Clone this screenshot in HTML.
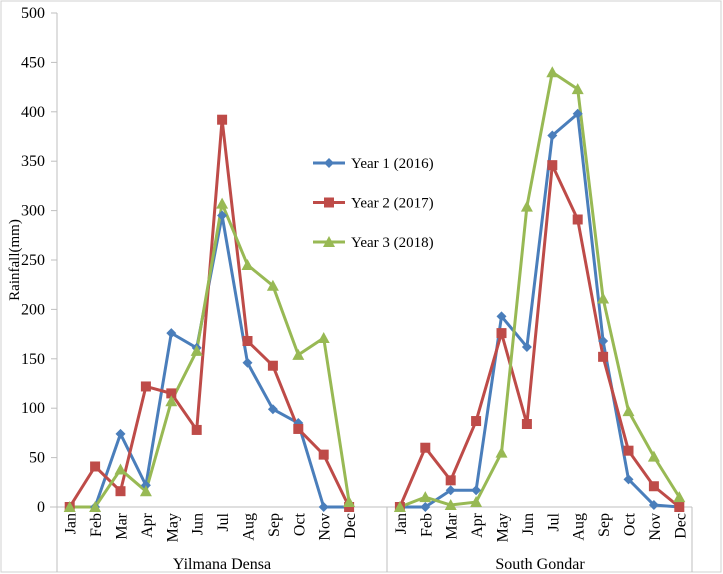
<!DOCTYPE html>
<html><head><meta charset="utf-8"><style>
body{margin:0;background:#fff;}
svg{display:block;font-family:"Liberation Serif",serif;}
</style></head><body>
<svg id="chart" width="723" height="574">
<rect x="1" y="1" width="720" height="571" fill="#fff" stroke="#d0d0d0"/>
<g id="axes"></g><g id="series"></g>
<text transform="translate(19,260) rotate(-90)" text-anchor="middle" font-size="15">Rainfall(mm)</text>
<g id="legend"></g>
</svg>
<script>
const months=["Jan","Feb","Mar","Apr","May","Jun","Jul","Aug","Sep","Oct","Nov","Dec"];
const groups=["Yilmana Densa","South Gondar"];
const seriesNames=["Year 1 (2016)","Year 2 (2017)","Year 3 (2018)"];
const y1Yil=[0,0,74,22,176,161,295,146,99,85,0,0];
const y2Yil=[0,41,16,122,115,78,392,168,143,79,53,0];
const y3Yil=[0,0,38,16,107,158,307,245,224,154,171,5];
const y1SG=[0,0,17,17,193,162,376,398,168,28,2,0];
const y2SG=[0,60,27,87,176,84,346,291,152,57,21,0];
const y3SG=[0,10,2,5,55,304,440,423,211,97,51,10];
const yTicks=[0,50,100,150,200,250,300,350,400,450,500];

const NS="http://www.w3.org/2000/svg";
const x0=57,slot=25.4,yBase=507,yScale=494/500;
const xs=i=>x0+slot*(i+0.5);
const ys=v=>yBase-v*yScale;
function mk(t,a,p){const e=document.createElementNS(NS,t);for(const k in a)e.setAttribute(k,a[k]);p.appendChild(e);return e;}
const axes=document.getElementById('axes');
let l=mk('line',{x1:x0,y1:13,x2:x0,y2:572,stroke:'#bfbfbf'},axes);


l=mk('line',{x1:50,y1:yBase,x2:692,y2:yBase,stroke:'#bfbfbf'},axes);


l=mk('line',{x1:387,y1:yBase,x2:387,y2:572,stroke:'#bfbfbf'},axes);


l=mk('line',{x1:692,y1:yBase,x2:692,y2:572,stroke:'#bfbfbf'},axes);


yTicks.forEach(v=>{
 const tk=mk('line',{x1:51,y1:ys(v),x2:x0,y2:ys(v),stroke:'#bfbfbf'},axes);
 
 
 const t=mk('text',{x:45,y:ys(v)+5,'text-anchor':'end','font-size':'16'},axes);
 t.textContent=v;
 
 
});
[0,13].forEach((off,g)=>{
 months.forEach((m,i)=>{
  const x=xs(off+i);
  const t=mk('text',{transform:`translate(${x+6},${513}) rotate(-90)`,'text-anchor':'end','font-size':'16'},axes);
  t.textContent=m;
  
  
 });
 const cx=g==0?222:540;
 const t=mk('text',{x:cx,y:569,'text-anchor':'middle','font-size':'16'},axes);
 t.textContent=groups[g];
 
 
});
const colors=["#4a7ebb","#be4b48","#98b954"];
const data=[[y1Yil,y1SG],[y2Yil,y2SG],[y3Yil,y3SG]];
const ser=document.getElementById('series');
function marker(k,x,y,p){
 let e;
 if(k==0)e=mk('polygon',{points:`${x},${y-5} ${x+5},${y} ${x},${y+5} ${x-5},${y}`,fill:colors[0]},p);
 else if(k==1)e=mk('rect',{x:x-5,y:y-5,width:10,height:10,fill:colors[1]},p);
 else e=mk('polygon',{points:`${x},${y-6} ${x+6},${y+5} ${x-6},${y+5}`,fill:colors[2]},p);
 return e;
}
data.forEach((pair,k)=>{
 pair.forEach((vals,g)=>{
  const off=g==0?0:13;
  const pts=vals.map((v,i)=>xs(off+i)+','+ys(v)).join(' ');
  const pl=mk('polyline',{points:pts,fill:'none',stroke:colors[k],'stroke-width':3,'stroke-linejoin':'round'},ser);
  
  
 });
});
data.forEach((pair,k)=>{
 pair.forEach((vals,g)=>{
  const off=g==0?0:13;
  vals.forEach((v,i)=>{
   const m=marker(k,xs(off+i),ys(v),ser);
   
   
  });
 });
});
const lg=document.getElementById('legend');
seriesNames.forEach((n,k)=>{
 const y=163+k*39.5;
 const ln=mk('line',{x1:313,y1:y,x2:345,y2:y,stroke:colors[k],'stroke-width':3},lg);
 
 
 const m=marker(k,329,y,lg);
 
 
 const t=mk('text',{x:351,y:y+5,'font-size':'15'},lg);
 t.textContent=n;
 
 
});
</script>
</body></html>
